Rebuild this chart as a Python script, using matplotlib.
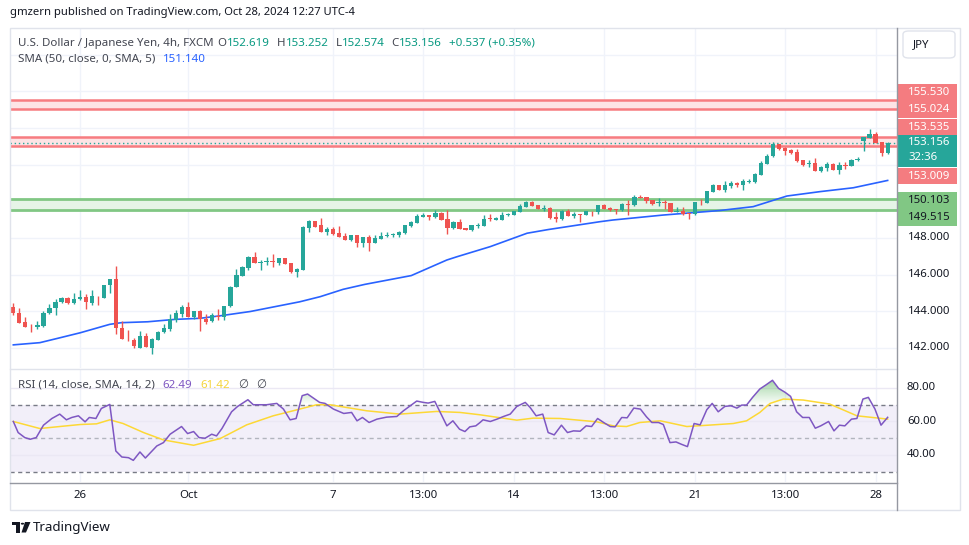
import numpy as np
import matplotlib
matplotlib.use("Agg")
import matplotlib.pyplot as plt
from matplotlib.patches import Rectangle, FancyBboxPatch, PathPatch, Polygon
from matplotlib.lines import Line2D

plt.rcParams['font.family'] = ['Noto Sans', 'DejaVu Sans']

# ---------------- data (USD/JPY 4h, FXCM) ----------------
opens = [144.25, 143.93, 143.44, 143.16, 143.13, 143.18, 143.89, 144.16, 144.49, 144.75,
         144.44, 144.65, 144.80, 144.47, 144.85, 144.75, 145.42, 145.78, 143.09, 142.51,
         142.45, 141.98, 142.67, 142.02, 142.45, 142.85, 143.05, 143.55, 143.87, 144.25,
         143.71, 144.04, 143.60, 143.45, 143.76, 143.67, 144.27, 145.31, 145.95, 146.35,
         146.96, 146.65, 146.69, 146.73, 146.64, 146.91, 146.64, 146.15, 146.25, 148.56,
         148.93, 148.71, 148.35, 148.51, 148.27, 148.11, 147.91, 148.16, 147.75, 148.05,
         147.75, 147.96, 148.13, 148.16, 148.16, 148.27, 148.65, 148.84, 149.16, 149.25,
         149.16, 149.36, 149.04, 148.56, 148.87, 148.56, 148.42, 148.65, 148.68, 149.07,
         149.00, 149.00, 149.25, 149.25, 149.40, 149.69, 149.98, 149.80, 149.58, 149.62,
         149.15, 149.04, 149.47, 149.18, 149.29, 149.25, 149.49, 149.44, 149.80, 149.62,
         149.58, 149.55, 149.85, 149.80, 150.24, 150.24, 150.07, 149.93, 149.96, 149.91,
         149.44, 149.47, 149.36, 149.33, 149.98, 149.91, 150.53, 150.89, 150.62, 150.82,
         151.00, 150.91, 151.07, 151.07, 151.45, 152.04, 152.45, 153.13, 152.91, 152.80,
         152.69, 152.25, 152.04, 152.07, 151.67, 151.82, 152.04, 151.73, 151.98, 151.95,
         152.25, 153.27, 153.45, 153.67, 153.22, 152.619]
highs = [144.45, 144.20, 143.71, 143.31, 143.49, 144.04, 144.40, 144.69, 144.80, 144.76,
         145.02, 145.16, 144.96, 145.16, 144.86, 145.45, 145.78, 146.49, 143.45, 142.96,
         142.55, 142.93, 142.82, 142.56, 142.95, 143.33, 143.87, 144.09, 144.36, 144.51,
         144.04, 144.05, 143.85, 143.91, 144.15, 144.31, 145.40, 146.31, 146.49, 147.02,
         147.24, 146.80, 146.95, 147.13, 146.91, 146.92, 146.65, 146.38, 148.65, 148.98,
         148.94, 149.09, 148.60, 148.60, 148.65, 148.27, 148.16, 148.17, 148.05, 148.16,
         148.16, 148.33, 148.35, 148.29, 148.38, 148.71, 148.93, 149.29, 149.35, 149.26,
         149.51, 149.44, 149.53, 148.93, 149.04, 148.57, 148.71, 148.80, 149.28, 149.30,
         149.15, 149.40, 149.36, 149.50, 149.85, 150.00, 150.00, 149.82, 149.80, 149.67,
         149.40, 149.55, 149.58, 149.40, 149.30, 149.49, 149.50, 149.80, 149.85, 149.67,
         149.59, 149.91, 150.09, 150.35, 150.35, 150.25, 150.09, 150.16, 150.09, 149.93,
         149.67, 149.67, 149.37, 149.98, 150.13, 150.58, 150.93, 150.90, 151.10, 151.13,
         151.04, 151.22, 151.22, 151.53, 152.18, 152.58, 153.22, 153.14, 152.95, 152.85,
         152.85, 152.26, 152.25, 152.36, 151.95, 152.13, 152.07, 152.13, 152.13, 152.29,
         152.44, 153.49, 153.95, 153.76, 153.23, 153.252]
lows = [143.82, 143.35, 143.12, 142.85, 143.05, 143.16, 143.85, 143.82, 144.47, 144.42,
        144.42, 144.62, 144.11, 144.33, 144.36, 144.73, 144.98, 142.75, 142.47, 142.36,
        142.02, 141.98, 142.04, 141.65, 142.45, 142.82, 142.91, 143.40, 143.67, 143.71,
        143.60, 142.95, 143.33, 143.40, 143.55, 143.51, 144.24, 145.31, 145.95, 146.25,
        146.65, 146.25, 146.51, 146.42, 146.53, 146.58, 146.09, 145.89, 146.24, 148.31,
        148.60, 148.35, 148.18, 148.18, 148.05, 147.87, 147.85, 147.49, 147.49, 147.31,
        147.71, 147.95, 148.07, 148.04, 148.07, 148.24, 148.62, 148.80, 149.16, 149.00,
        149.07, 148.98, 148.24, 148.49, 148.51, 148.42, 148.38, 148.56, 148.65, 148.95,
        148.97, 149.00, 149.22, 149.24, 149.40, 149.67, 149.74, 149.56, 149.49, 149.02,
        148.85, 149.00, 149.18, 149.07, 148.85, 149.24, 149.18, 149.29, 149.58, 149.49,
        149.29, 149.49, 149.25, 149.76, 150.19, 149.91, 149.82, 149.76, 149.58, 149.42,
        149.42, 149.25, 149.04, 149.25, 149.80, 149.90, 150.50, 150.62, 150.53, 150.73,
        150.80, 150.64, 150.98, 151.02, 151.44, 152.03, 152.44, 152.80, 152.55, 152.58,
        152.16, 151.95, 151.85, 151.67, 151.62, 151.64, 151.71, 151.51, 151.76, 151.91,
        152.18, 152.73, 153.44, 153.17, 152.49, 152.574]
closes = [143.89, 143.38, 143.13, 143.13, 143.24, 143.93, 144.20, 144.53, 144.73, 144.44,
          144.69, 144.80, 144.49, 144.85, 144.82, 145.44, 145.78, 143.07, 142.47, 142.47,
          142.09, 142.67, 142.04, 142.51, 142.89, 143.11, 143.58, 143.93, 144.25, 143.71,
          144.04, 143.56, 143.44, 143.78, 143.69, 144.31, 145.35, 146.00, 146.44, 146.96,
          146.65, 146.71, 146.73, 146.69, 146.91, 146.60, 146.15, 146.31, 148.60, 148.93,
          148.60, 148.35, 148.51, 148.22, 148.05, 147.91, 148.16, 147.75, 148.05, 147.71,
          148.02, 148.13, 148.18, 148.22, 148.33, 148.71, 148.85, 149.20, 149.25, 149.15,
          149.36, 148.98, 148.56, 148.87, 148.51, 148.42, 148.71, 148.71, 149.05, 149.02,
          149.11, 149.25, 149.33, 149.49, 149.73, 149.98, 149.76, 149.58, 149.62, 149.07,
          149.04, 149.47, 149.18, 149.33, 149.27, 149.47, 149.45, 149.80, 149.58, 149.53,
          149.55, 149.85, 149.80, 150.24, 150.20, 150.04, 149.85, 149.96, 149.91, 149.44,
          149.49, 149.33, 149.33, 149.98, 149.95, 150.56, 150.89, 150.64, 150.89, 151.00,
          150.91, 151.13, 151.13, 151.49, 152.09, 152.49, 153.13, 152.85, 152.76, 152.65,
          152.22, 152.00, 152.07, 151.67, 151.89, 152.04, 151.73, 151.98, 151.95, 152.25,
          152.31, 153.49, 153.67, 153.18, 152.62, 153.156]

# SMA(50) smoothed, read at points along the line (candle index, value)
sma_idx = [0, 4.4, 7.4, 11.1, 16.0, 17.9, 22.3, 26.8, 31.0, 34.4, 39.3, 47.5, 50.9, 54.7,
           58.3, 66.0, 71.9, 73.6, 79.1, 85.2, 88.7, 97.3, 99.4, 107.7, 117.2, 122.7,
           128.3, 133.8, 139.3, 145]
sma_val = [142.17, 142.29, 142.53, 142.83, 143.29, 143.38, 143.43, 143.56, 143.62, 143.76,
           143.99, 144.52, 144.80, 145.20, 145.47, 145.95, 146.80, 146.98, 147.53, 148.26,
           148.46, 148.89, 148.98, 149.25, 149.50, 149.71, 150.29, 150.53, 150.74, 151.14]

# RSI(14) read at vertices (candle index, value)
rsi_idx = [0, 0.8, 1.9, 2.8, 3.8, 5.0, 6.4, 7.7, 8.8, 9.7, 10.8, 11.9, 12.6, 13.7, 14.6,
           16.0, 17.0, 18.0, 19.1, 19.9, 21.0, 21.9, 23.8, 24.9, 26.0, 27.9, 28.9, 29.9,
           30.8, 31.8, 32.9, 33.7, 34.6, 36.2, 37.2, 38.9, 39.8, 42.0, 43.7, 44.8, 45.9,
           46.9, 47.9, 48.8, 50.8, 51.7, 53.1, 54.8, 56.1, 57.0, 57.9, 59.0, 60.3, 61.9,
           63.6, 64.7, 66.9, 68.0, 68.8, 69.9, 71.9, 72.9, 74.0, 74.9, 75.7, 76.7, 77.4,
           77.9, 79.1, 80.2, 81.3, 82.4, 83.5, 84.9, 85.7, 86.7, 87.8, 88.7, 89.7, 90.9,
           91.9, 92.9, 94.0, 95.0, 95.9, 96.9, 97.9, 99.0, 99.8, 100.9, 101.8, 102.9,
           104.0, 105.0, 105.9, 107.0, 107.8, 108.9, 109.9, 110.8, 111.8, 112.9, 113.9,
           115.0, 115.9, 116.9, 118.0, 119.0, 120.0, 120.8, 121.6, 122.6, 123.8, 124.8,
           125.9, 126.9, 128.0, 128.9, 129.9, 130.9, 132.0, 133.0, 133.9, 135.2, 136.1,
           137.0, 137.9, 139.0, 139.9, 140.9, 141.8, 142.9, 143.9, 145]
rsi_val = [60.0, 53.4, 50.4, 49.4, 50.4, 57.8, 61.8, 64.4, 61.0, 62.4, 63.4, 59.8, 62.4,
           61.8, 67.8, 70.2, 42.4, 38.8, 38.4, 36.8, 41.8, 38.2, 45.4, 47.4, 52.4, 57.0,
           52.8, 54.0, 50.4, 50.0, 52.4, 51.4, 55.8, 65.8, 69.0, 73.0, 70.0, 70.0, 70.8,
           67.4, 61.0, 61.8, 75.4, 76.4, 71.4, 70.8, 67.4, 64.8, 65.4, 60.4, 62.4, 59.4,
           61.4, 62.6, 63.0, 66.4, 72.2, 71.4, 71.0, 72.0, 57.4, 60.4, 55.4, 54.0, 56.8,
           57.4, 59.4, 61.0, 60.0, 61.4, 63.0, 64.4, 69.0, 71.4, 68.4, 63.4, 64.4, 53.4,
           52.0, 57.8, 53.4, 54.4, 54.2, 57.4, 57.0, 61.8, 59.4, 57.0, 56.8, 62.4, 62.2,
           68.0, 67.4, 62.8, 59.4, 59.4, 58.2, 47.4, 47.8, 46.4, 45.0, 58.8, 58.0, 67.0,
           70.8, 65.8, 69.0, 69.4, 68.0, 69.8, 69.8, 74.4, 79.4, 81.8, 84.6, 79.8, 77.4,
           75.0, 65.8, 62.4, 62.4, 56.0, 57.4, 60.0, 54.4, 57.8, 57.4, 61.4, 61.8, 73.4,
           74.4, 67.4, 57.8, 62.49]
# RSI-based SMA(14)
sig_idx = [0, 4.4, 7.7, 11.1, 13.8, 16.0, 18.2, 21.6, 24.9, 29.9, 34.3, 38.7, 43.1, 46.4,
           50.3, 52.5, 58.6, 64.1, 70.2, 74.1, 77.4, 83.5, 86.2, 90.7, 96.8, 99.5, 101.7,
           103.9, 107.3, 111.7, 116.1, 119.4, 121.6, 123.8, 125.5, 127.7, 131.0, 135.4,
           139.9, 145]
sig_val = [60.0, 55.8, 57.0, 58.2, 58.6, 61.0, 58.8, 53.4, 49.0, 45.8, 49.8, 58.0, 63.4,
           66.4, 70.0, 70.0, 66.4, 64.4, 66.0, 65.4, 64.0, 60.8, 62.0, 61.8, 59.8, 57.4,
           57.0, 59.4, 60.4, 57.0, 58.0, 58.8, 60.4, 65.4, 70.8, 73.4, 72.8, 70.4, 63.4,
           61.42]

red_zones = [(155.024, 155.530), (153.009, 153.535)]
green_zone = (149.515, 150.103)
last_price = 153.156
countdown = '32:36'
time_idx = [11, 29, 53, 68, 83, 98, 113, 128, 143]
time_lbl = ['26', 'Oct', '7', '13:00', '14', '13:00', '21', '13:00', '28']
price_ticks = [142, 144, 146, 148]
rsi_ticks = [80, 60, 40]

# ---------------- figure ----------------
W, H = 970, 545
fig = plt.figure(figsize=(W / 100, H / 100), dpi=100)
fig.patch.set_facecolor('white')
renderer = fig.canvas.get_renderer()


def fx(x):
    return x / W


def fy(y):
    return 1 - y / H


UP = '#26a69a'
DN = '#ef5350'
GRID = '#f0f3fa'
TXT = '#131722'
LEG = '#434651'
RED_LINE = '#f77c80'
RED_FILL = '#fde4e5'
GRN_LINE = '#81c784'
GRN_FILL = '#e6f4e7'
FS = 8.2

XL = (-0.55, 146.55)
ax = fig.add_axes([fx(10), fy(368), (897 - 10) / W, (368 - 28) / H])
axr = fig.add_axes([fx(10), fy(482), (897 - 10) / W, (482 - 369) / H])
for a in (ax, axr):
    a.set_xlim(*XL)
    for s in a.spines.values():
        s.set_visible(False)
    a.set_xticks([])
    a.set_yticks([])
ax.set_ylim(140.908, 159.456)
axr.set_ylim(23.88, 91.34)

# grid
for t in time_idx:
    ax.axvline(t, color=GRID, lw=1, zorder=0)
    axr.axvline(t, color=GRID, lw=1, zorder=0)
for p in np.arange(142, 160, 2):
    ax.axhline(p, color=GRID, lw=1, zorder=0)

# zones
for lo, hi in red_zones:
    ax.axhspan(lo, hi, color=RED_FILL, lw=0, zorder=1)
    ax.axhline(lo, color=RED_LINE, lw=1.8, zorder=2)
    ax.axhline(hi, color=RED_LINE, lw=1.8, zorder=2)
ax.axhspan(green_zone[0], green_zone[1], color=GRN_FILL, lw=0, zorder=1)
ax.axhline(green_zone[0], color=GRN_LINE, lw=2, zorder=2)
ax.axhline(green_zone[1], color=GRN_LINE, lw=2, zorder=2)
ax.axhline(last_price, color=UP, lw=1, ls=(0, (1, 2)), zorder=2)

# SMA
ax.plot(sma_idx, sma_val, color='#2962ff', lw=1.2, zorder=3)

# candles
o = np.array(opens); h = np.array(highs); l = np.array(lows); c = np.array(closes)
idx = np.arange(len(o))
cols = np.where(c >= o, UP, DN)
ax.vlines(idx, l, h, colors=cols, lw=1, zorder=4)
bot = np.minimum(o, c)
hgt = np.maximum(np.abs(c - o), 0.04)
ax.bar(idx, hgt, bottom=bot, width=0.7, color=cols, lw=0, zorder=5)

# RSI pane
axr.axhspan(30, 70, color='#f2eff9', lw=0, zorder=0)
for r in rsi_ticks:
    axr.axhline(r, color='#ebe8f4', lw=1, zorder=0.5)
axr.axhline(70, color='#787b86', lw=1, ls=(0, (3, 2.5)), zorder=1)
axr.axhline(30, color='#787b86', lw=1, ls=(0, (3, 2.5)), zorder=1)
axr.axhline(50, color='#b2b5be', lw=1, ls=(0, (3, 2.5)), zorder=1)

ri = np.array(rsi_idx); rv = np.array(rsi_val)
fb = axr.fill_between(ri, rv, 70, where=rv > 70, interpolate=True,
                      facecolor='none', edgecolor='none')
grad = np.zeros((100, 2, 4))
grad[..., 0] = 76 / 255; grad[..., 1] = 175 / 255; grad[..., 2] = 80 / 255
grad[..., 3] = np.linspace(0.55, 0.0, 100)[:, None]
for path in fb.get_paths():
    patch = PathPatch(path, transform=axr.transData, facecolor='none', edgecolor='none')
    axr.add_patch(patch)
    im = axr.imshow(grad, extent=[ri.min(), ri.max(), 70, 86], aspect='auto',
                    origin='upper', interpolation='bilinear', zorder=2)
    im.set_clip_path(patch)
axr.set_xlim(*XL)
axr.set_ylim(23.88, 91.34)
axr.plot(sig_idx, sig_val, color='#fdd835', lw=1.1, zorder=3)
axr.plot(rsi_idx, rsi_val, color='#7e57c2', lw=1.1, zorder=4)


# ---------------- frame lines ----------------
def fline(xs, ys, color, lw=1):
    fig.add_artist(Line2D([fx(v) for v in xs], [fy(v) for v in ys],
                          transform=fig.transFigure, color=color, lw=lw))


fig.add_artist(Rectangle((fx(10), fy(510)), (960 - 10) / W, (510 - 28) / H, fill=False,
                         ec='#e0e3eb', lw=1, transform=fig.transFigure))
fline([10, 897], [368.5, 368.5], '#e0e3eb')
fline([10, 897], [482.5, 482.5], '#9598a1')
fline([897.5, 897.5], [28, 510], '#9598a1')


# ---------------- right price scale ----------------
def py(a, v):
    return H - a.transData.transform((0, v))[1]


def px_of(i):
    return ax.transData.transform((i, 0))[0]


for p in price_ticks:
    fig.text(fx(908), fy(py(ax, p)), f'{p:.3f}', ha='left', va='center',
             color=TXT, fontsize=FS)
for r in rsi_ticks:
    fig.text(fx(907), fy(py(axr, r)), f'{r:.2f}', ha='left', va='center',
             color=TXT, fontsize=FS)

RED_LBL = '#f47c80'
GRN_LBL = '#81c784'
# (price, colour, text colour, pixel shift of the tag, tag height)
tags = [
    (red_zones[0][1], RED_LBL, 'white', -7.0, 17),
    (red_zones[0][0], RED_LBL, 'white', 0.7, 17),
    (red_zones[1][1], RED_LBL, 'white', -9.5, 16),
    (red_zones[1][0], RED_LBL, 'white', 30.0, 16),
    (green_zone[1], GRN_LBL, TXT, 0.8, 17),
    (green_zone[0], GRN_LBL, TXT, 7.7, 17),
]
for p, fc, tc, dy, hh in tags:
    cy = py(ax, p) + dy
    fig.add_artist(Rectangle((fx(898), fy(cy + hh / 2)), (957 - 898) / W, hh / H,
                             transform=fig.transFigure, fc=fc, ec='none'))
    fig.text(fx(908), fy(cy), f'{p:.3f}', ha='left', va='center', color=tc, fontsize=FS)

cy = py(ax, last_price) - 0.5
fig.add_artist(Rectangle((fx(898), fy(cy + 24)), (957 - 898) / W, 32 / H,
                         transform=fig.transFigure, fc=UP, ec='none'))
fig.text(fx(908), fy(cy), f'{last_price:.3f}', ha='left', va='center', color='white', fontsize=FS)
fig.text(fx(908), fy(cy + 15), countdown, ha='left', va='center', color='white', fontsize=FS)

# JPY button
fig.add_artist(FancyBboxPatch((fx(903), fy(58)), (955 - 903) / W, (58 - 31) / H,
                              boxstyle='round,pad=0,rounding_size=0.006',
                              transform=fig.transFigure, fc='white', ec='#e0e3eb', lw=1))
fig.text(fx(921), fy(44.5), 'JPY', ha='center', va='center', color=TXT, fontsize=FS)

# time axis
for i, s in zip(time_idx, time_lbl):
    fig.text(fx(px_of(i)), fy(495), s, ha='center', va='center', color=TXT, fontsize=FS)


# ---------------- texts ----------------
def chain(x0, y, segs, fs):
    """Place coloured text pieces one after another; gap = pixels before each piece."""
    x = x0
    for gap, s, col in segs:
        x += gap
        t = fig.text(fx(x), fy(y), s, ha='left', va='center', color=col, fontsize=fs)
        x = t.get_window_extent(renderer).x1


fig.text(fx(10), fy(12), 'gmzern published on TradingView.com, Oct 28, 2024 12:27 UTC-4',
         ha='left', va='center', color=TXT, fontsize=8.1)

TEAL_T = '#089981'
FL = 8.3
chain(18, 43, [(0, 'U.S. Dollar / Japanese Yen, 4h, FXCM', LEG),
               (4, 'O', LEG), (0.5, f'{opens[-1]:.3f}', TEAL_T),
               (7, 'H', LEG), (0.5, f'{highs[-1]:.3f}', TEAL_T),
               (7, 'L', LEG), (0.5, f'{lows[-1]:.3f}', TEAL_T),
               (6, 'C', LEG), (0.5, f'{closes[-1]:.3f}', TEAL_T),
               (7, '+0.537 (+0.35%)', TEAL_T)], FL)
chain(18, 59, [(0, 'SMA (50, close, 0, SMA, 5)', LEG),
               (8, f'{sma_val[-1]:.3f}', '#2962ff')], FL)
chain(18, 385, [(0, 'RSI (14, close, SMA, 14, 2)', LEG),
                (8, f'{rsi_val[-1]:.2f}', '#7e57c2'),
                (8, f'{sig_val[-1]:.2f}', '#f5d43a'),
                (8, '∅', LEG), (8, '∅', LEG)], FL)

# TradingView logo
fig.add_artist(Polygon([(fx(12), fy(522)), (fx(20), fy(522)), (fx(20), fy(532.5)),
                        (fx(16.5), fy(532.5)), (fx(16.5), fy(525)), (fx(12), fy(525))],
                       closed=True, transform=fig.transFigure, fc=TXT, ec='none'))
fig.add_artist(plt.Circle((fx(22.5), fy(523.7)), 1.7 / W, transform=fig.transFigure,
                          fc=TXT, ec='none'))
fig.add_artist(Polygon([(fx(25), fy(522)), (fx(30.5), fy(522)), (fx(26), fy(532.5)),
                        (fx(21.5), fy(532.5))],
                       closed=True, transform=fig.transFigure, fc=TXT, ec='none'))
fig.text(fx(33), fy(527.5), 'TradingView', ha='left', va='center', color=TXT, fontsize=9.6)

fig.savefig('out.png', dpi=100, facecolor='white')
